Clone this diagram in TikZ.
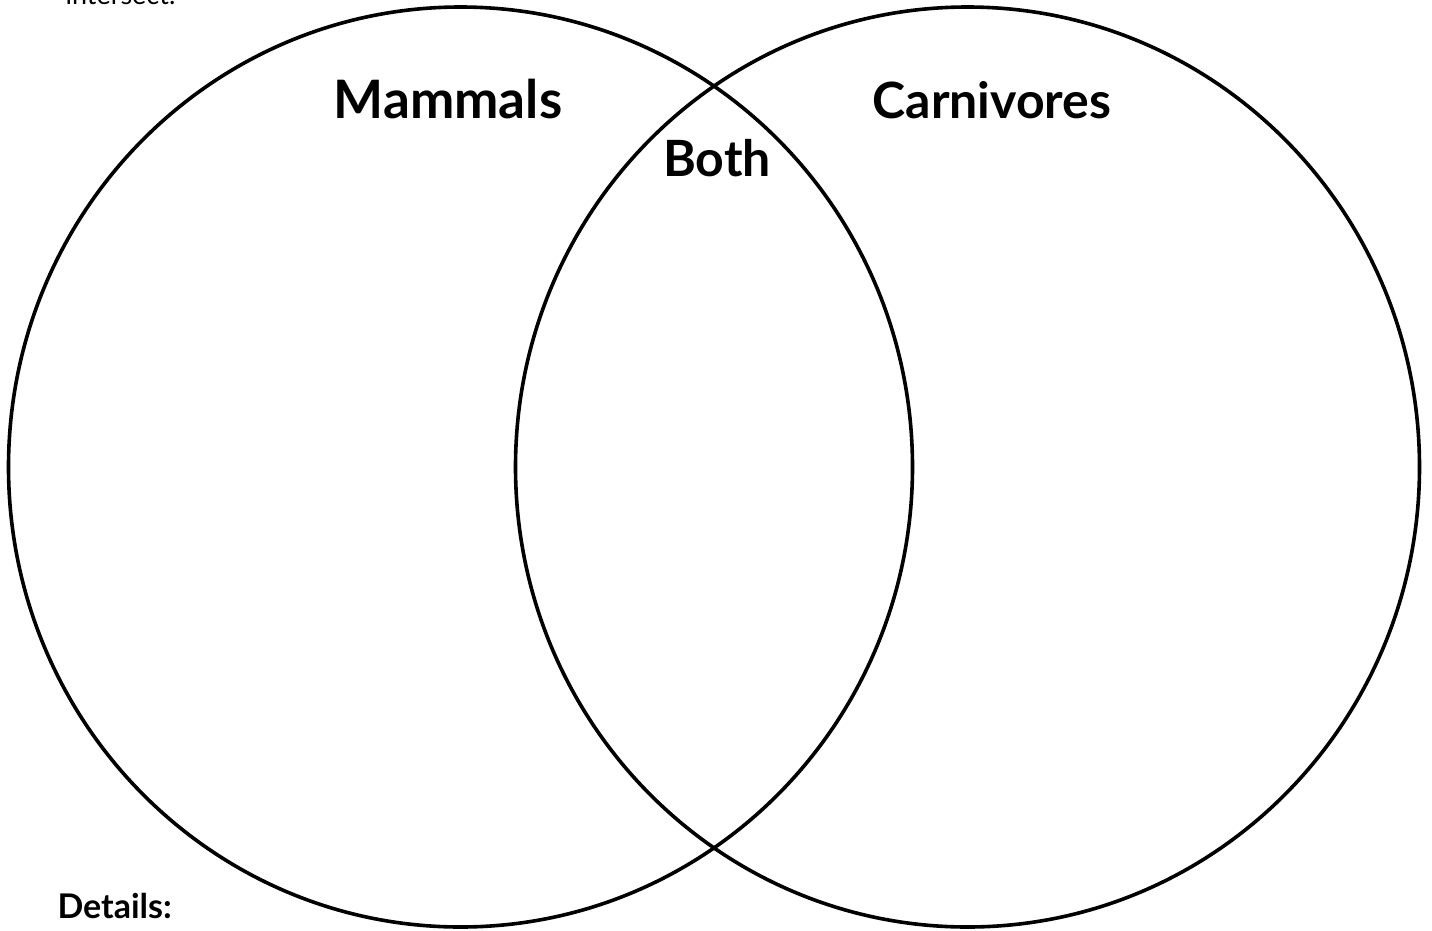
\documentclass[tikz,border=0pt]{standalone}
\usepackage{fontspec}
\setmainfont{Lato}
\usepackage{tikz}
\usetikzlibrary{positioning,shapes.geometric}

\begin{document}
\begin{tikzpicture}[
  x=1pt, y=-1pt,
  set/.style={draw=black, line width=3.6pt, ellipse, minimum width=904pt, minimum height=920pt, inner sep=0pt},
  title/.style={font=\fontsize{50}{60}\selectfont\bfseries, anchor=base},
  note/.style={font=\fontsize{27}{32}\selectfont, anchor=base west}
]
\useasboundingbox (0,0) rectangle (1432,930);
\node[set] (mammalset) at (460.5,467) {};
\node[set] (carnset) at (967.5,467) {};

\node[title, font=\fontsize{53}{60}\selectfont\bfseries] (mammals) at (448,118) {Mammals};
\node[title] (carnivores) at (992,118) {Carnivores};
\node[title] (both) at (717,176) {Both};

\node[note] (intersect) at (62,4) {intersect.};
\node[note, font=\fontsize{34}{40}\selectfont\bfseries] (details) at (54,918) {Details:};
\end{tikzpicture}
\end{document}
